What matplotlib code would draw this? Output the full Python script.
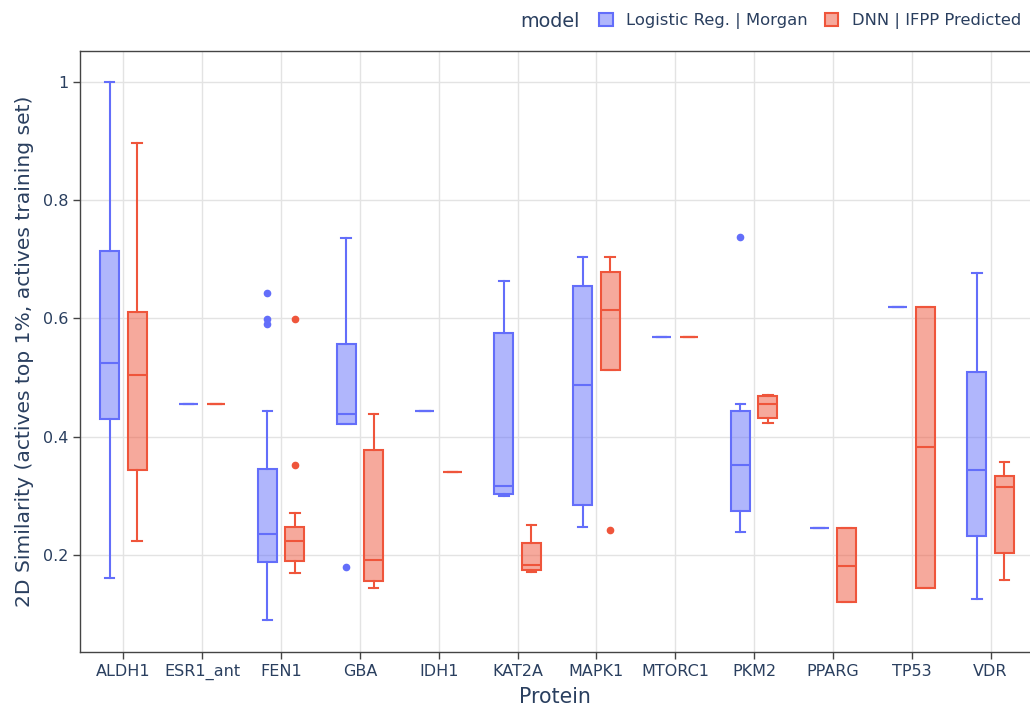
import numpy as np
import matplotlib.pyplot as plt
from matplotlib.patches import Patch
from matplotlib.colors import to_rgba

plt.rcParams['font.family'] = ['DejaVu Sans']

proteins = ['ALDH1', 'ESR1_ant', 'FEN1', 'GBA', 'IDH1', 'KAT2A',
            'MAPK1', 'MTORC1', 'PKM2', 'PPARG', 'TP53', 'VDR']

# Logistic Reg. | Morgan
lr_low = [0.161, 0.455, 0.090, 0.421, 0.443, 0.299, 0.248, 0.568, 0.239, 0.245, 0.620, 0.126]
lr_q1 = [0.430, 0.455, 0.188, 0.421, 0.443, 0.303, 0.284, 0.568, 0.275, 0.245, 0.620, 0.232]
lr_med = [0.524, 0.455, 0.235, 0.438, 0.443, 0.317, 0.488, 0.568, 0.353, 0.245, 0.620, 0.344]
lr_q3 = [0.714, 0.455, 0.345, 0.556, 0.443, 0.576, 0.654, 0.568, 0.443, 0.245, 0.620, 0.510]
lr_high = [1.000, 0.455, 0.444, 0.736, 0.443, 0.663, 0.704, 0.568, 0.455, 0.245, 0.620, 0.676]
lr_out = [[], [], [0.643, 0.599, 0.590], [0.179], [], [], [], [], [0.737], [], [], []]

# DNN | IFPP Predicted
dnn_low = [0.224, 0.455, 0.169, 0.144, 0.340, 0.172, 0.513, 0.568, 0.424, 0.120, 0.145, 0.158]
dnn_q1 = [0.343, 0.455, 0.190, 0.156, 0.340, 0.175, 0.513, 0.568, 0.431, 0.120, 0.145, 0.204]
dnn_med = [0.505, 0.455, 0.223, 0.192, 0.340, 0.183, 0.614, 0.568, 0.455, 0.182, 0.382, 0.315]
dnn_q3 = [0.611, 0.455, 0.248, 0.377, 0.340, 0.221, 0.679, 0.568, 0.468, 0.245, 0.620, 0.334]
dnn_high = [0.897, 0.455, 0.271, 0.438, 0.340, 0.250, 0.704, 0.568, 0.471, 0.245, 0.620, 0.358]
dnn_out = [[], [], [0.599, 0.352], [], [], [], [0.242], [], [], [], [], []]

models = ['Logistic Reg. | Morgan', 'DNN | IFPP Predicted']
colors = ['#636efa', '#ef553b']
text_col = '#2a3f5f'


def make_stats(low, q1, med, q3, high, out):
    return [dict(whislo=a, q1=b, med=c, q3=d, whishi=e, fliers=f)
            for a, b, c, d, e, f in zip(low, q1, med, q3, high, out)]


series = [make_stats(lr_low, lr_q1, lr_med, lr_q3, lr_high, lr_out),
          make_stats(dnn_low, dnn_q1, dnn_med, dnn_q3, dnn_high, dnn_out)]

fig = plt.figure(figsize=(10.3, 7.08), dpi=100)
ax = fig.add_axes([0.0777, 0.079, 0.9223, 0.849])

x = np.arange(len(proteins))
for stats, col, off in zip(series, colors, [-0.175, 0.175]):
    ax.bxp(stats, positions=x + off, widths=0.24, patch_artist=True,
           capwidths=0.12, manage_ticks=False,
           boxprops=dict(facecolor=to_rgba(col, 0.5), edgecolor=col, linewidth=1.5),
           medianprops=dict(color=col, linewidth=1.5),
           whiskerprops=dict(color=col, linewidth=1.5),
           capprops=dict(color=col, linewidth=1.5),
           flierprops=dict(marker='o', markersize=4.5, markerfacecolor=col,
                           markeredgecolor=col, linestyle='none'))

ax.set_xlim(-0.55, 11.5)
ax.set_ylim(0.036, 1.052)
ax.set_xticks(x)
ax.set_xticklabels(proteins)
ax.set_yticks([0.2, 0.4, 0.6, 0.8, 1.0])
ax.set_yticklabels(['0.2', '0.4', '0.6', '0.8', '1'])
ax.grid(True, color='#e3e3e3', linewidth=1)
ax.set_axisbelow(True)
ax.tick_params(colors='#444444', labelcolor=text_col, labelsize=11.5, length=5, width=1)
for s in ['left', 'bottom', 'top']:
    ax.spines[s].set_color('#444444')
    ax.spines[s].set_linewidth(1)
ax.spines['right'].set_visible(False)

ax.set_xlabel('Protein', fontsize=14.8, color=text_col, labelpad=5)
ax.set_ylabel('2D Similarity (actives top 1%, actives training set)',
              fontsize=14.6, color=text_col, labelpad=6)

fig.text(0.505, 0.97, 'model', fontsize=13.8, color=text_col, va='center')
handles = [Patch(facecolor=to_rgba(c, 0.5), edgecolor=c, linewidth=1.5) for c in colors]
fig.legend(handles, models, loc='center left', bbox_to_anchor=(0.582, 0.97),
           ncol=2, frameon=False, fontsize=11.8, labelcolor=text_col,
           handlelength=0.8, handleheight=0.8, handletextpad=0.8, columnspacing=1.1,
           borderaxespad=0, borderpad=0)

fig.savefig('out.png', dpi=100)
